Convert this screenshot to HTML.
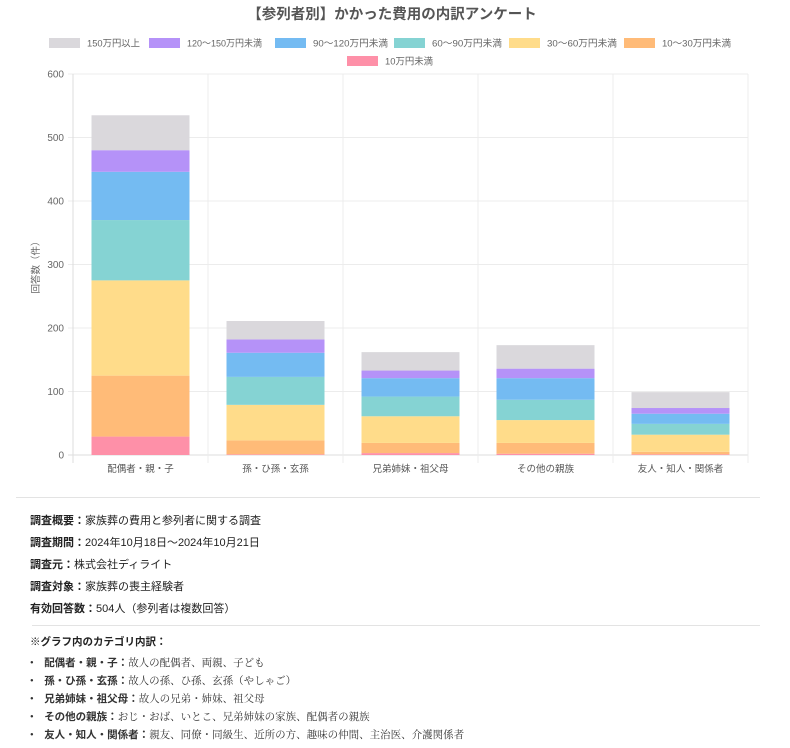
<!DOCTYPE html>
<html><head><meta charset="utf-8">
<style>
body{margin:0;background:#fff;font-family:"Liberation Sans","Noto Sans CJK JP",sans-serif;}
#wrap{position:relative;width:790px;height:748px;overflow:hidden}
.info{position:absolute;left:30px;font-size:11px;color:#222;font-family:"Liberation Sans","Noto Sans CJK JP",sans-serif}
.info b{font-weight:bold}
.hr{position:absolute;left:16px;width:744px;height:1px;background:#e3e3e3}
.li{position:absolute;left:30px;font-size:10.5px;color:#333;font-family:"Liberation Serif","Noto Serif CJK SC",serif}
.li b{font-family:"Liberation Sans","Noto Sans CJK JP",sans-serif}
</style></head><body>
<div id="wrap">
<svg id="chart" width="790" height="480" style="position:absolute;left:0;top:0"></svg>
<div class="hr" style="top:497px"></div>
<div class="info" style="top:512px"><b>調査概要：</b>家族葬の費用と参列者に関する調査</div>
<div class="info" style="top:534px"><b>調査期間：</b>2024年10月18日～2024年10月21日</div>
<div class="info" style="top:556px"><b>調査元：</b>株式会社ディライト</div>
<div class="info" style="top:578px"><b>調査対象：</b>家族葬の喪主経験者</div>
<div class="info" style="top:600px"><b>有効回答数：</b>504人（参列者は複数回答）</div>
<div class="hr" style="top:625px;left:32px;width:728px"></div>
<div class="info" style="top:634px;font-size:10.5px"><b>※グラフ内のカテゴリ内訳：</b></div>
<div class="li" style="top:655px">•&nbsp;&nbsp;&nbsp;&nbsp;<b>配偶者・親・子：</b>故人の配偶者、両親、子ども</div>
<div class="li" style="top:673px">•&nbsp;&nbsp;&nbsp;&nbsp;<b>孫・ひ孫・玄孫：</b>故人の孫、ひ孫、玄孫（やしゃご）</div>
<div class="li" style="top:691px">•&nbsp;&nbsp;&nbsp;&nbsp;<b>兄弟姉妹・祖父母：</b>故人の兄弟・姉妹、祖父母</div>
<div class="li" style="top:709px">•&nbsp;&nbsp;&nbsp;&nbsp;<b>その他の親族：</b>おじ・おば、いとこ、兄弟姉妹の家族、配偶者の親族</div>
<div class="li" style="top:727px">•&nbsp;&nbsp;&nbsp;&nbsp;<b>友人・知人・関係者：</b>親友、同僚・同級生、近所の方、趣味の仲間、主治医、介護関係者</div>
</div>
<script>
const categories=["配偶者・親・子","孫・ひ孫・玄孫","兄弟姉妹・祖父母","その他の親族","友人・知人・関係者"];
const seriesNames=["10万円未満","10～30万円未満","30～60万円未満","60～90万円未満","90～120万円未満","120～150万円未満","150万円以上"];
const s10=[29,1,3,2,1];
const s10_30=[96,22,16,17,4];
const s30_60=[150,56,42,36,27];
const s60_90=[95,44,31,32,17];
const s90_120=[76,38,29,34,16];
const s120_150=[34,21,12,15,9];
const s150=[55,29,29,37,25];
const yTicks=[0,100,200,300,400,500,600];
const series=[s10,s10_30,s30_60,s60_90,s90_120,s120_150,s150];
const colors=["#fe90a8","#ffbb78","#ffdc8a","#85d3d3","#74bbf2","#b592f8","#dad8dc"];
const svg=document.getElementById('chart');
const NS="http://www.w3.org/2000/svg";
const X0=73,X1=748,Y0=455,Y1=74,YMAX=600;
const bw=(X1-X0)/categories.length;
const y=v=>Y0-(v/YMAX)*(Y0-Y1);
const xc=i=>X0+bw*(i+0.5);
function mk(t,a){const e=document.createElementNS(NS,t);for(const k in a)e.setAttribute(k,a[k]);svg.appendChild(e);return e;}
let e;
e=mk('text',{x:392,y:19,'text-anchor':'middle','font-size':'14.5','font-weight':'bold',fill:'#555'});e.textContent="【参列者別】かかった費用の内訳アンケート";


// legend layout (display order: 150+ first)
const legX=[49,149,275,394,509,624,347];
const legY=[43,43,43,43,43,43,61];
const legTW=[53,75,75,70,70,69,48];
for(let k=0;k<7;k++){
 const si=6-k;
 const g=document.createElementNS(NS,'g');svg.appendChild(g);
 
 
 const r=document.createElementNS(NS,'rect');r.setAttribute('x',legX[k]);r.setAttribute('y',legY[k]-5);r.setAttribute('width',31);r.setAttribute('height',10);r.setAttribute('fill',colors[si]);g.appendChild(r);
 const t=document.createElementNS(NS,'text');t.setAttribute('x',legX[k]+38);t.setAttribute('y',legY[k]+3.5);t.setAttribute('font-size','9.5');t.setAttribute('fill','#666');
 t.setAttribute('textLength',legTW[k]);t.setAttribute('lengthAdjust','spacingAndGlyphs');
 t.textContent=seriesNames[si];g.appendChild(t);
}
// grid
yTicks.forEach(v=>{
 e=mk('line',{x1:X0-5,x2:X1,y1:y(v),y2:y(v),stroke:v===0?'#ddd':'#ececec','stroke-width':1});
 
 
 e=mk('text',{x:X0-9,y:y(v)+3.5,'text-anchor':'end','font-size':'10',fill:'#666'});e.textContent=v;
 
 
});
for(let i=0;i<=categories.length;i++){
 e=mk('line',{x1:X0+bw*i,x2:X0+bw*i,y1:Y1,y2:Y0+8,stroke:i===0?'#ddd':'#ececec','stroke-width':1});
 
 
}
e=mk('text',{x:0,y:0,'text-anchor':'middle','font-size':'9.5',fill:'#666',transform:'translate(39,265) rotate(-90)'});e.textContent="回答数（件）";


// bars
const barW=98;
categories.forEach((c,i)=>{
 let acc=0;
 series.forEach((s,si)=>{
  const v=s[i];
  const r=mk('rect',{x:xc(i)-barW/2,y:y(acc+v),width:barW,height:y(acc)-y(acc+v),fill:colors[si]});
  
  
  acc+=v;
 });
 e=mk('text',{x:xc(i),y:Y0+17,'text-anchor':'middle','font-size':'9.5',fill:'#555'});e.textContent=c;
 
 
});
</script>
</body></html>
